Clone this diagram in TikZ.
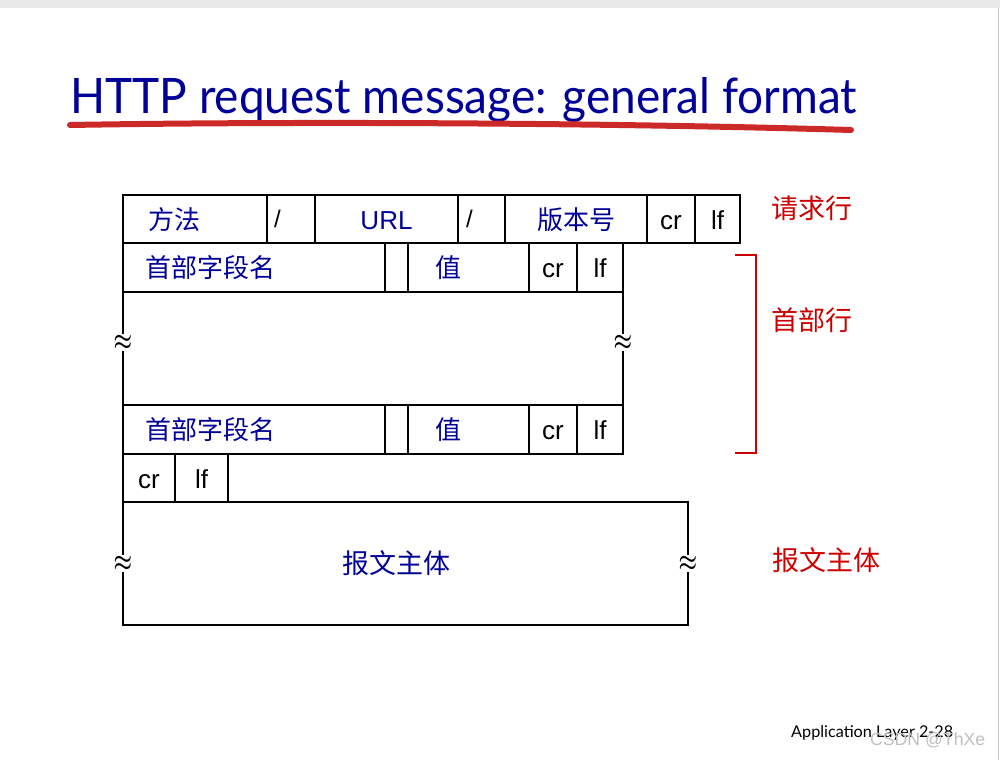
\documentclass[tikz,border=0pt]{standalone}
\usepackage{fontspec}
\setmainfont{Liberation Sans}
\newfontfamily\cjk{Noto Sans CJK SC}
\newfontfamily\gill{Lato}
\usetikzlibrary{positioning}
\definecolor{navy}{RGB}{0,0,153}
\definecolor{hdrred}{RGB}{204,0,0}
\definecolor{penred}{RGB}{204,41,41}

\begin{document}
\begin{tikzpicture}[
 x=1pt, y=-1pt,
 cell/.style={rectangle, draw=black, line width=2.3pt, inner sep=0pt, outer sep=0pt, minimum height=48pt, text height=20pt, text depth=0pt, font=\fontsize{26}{30}\selectfont},
 hrow/.style={cell, minimum height=49pt},
 zh/.style={text=navy, font=\cjk\fontsize{26}{30}\selectfont},
 slash/.style={font=\fontsize{24}{28}\selectfont, text height=16pt, align=left},
 cut/.style={fill=white, inner xsep=0pt, inner ysep=1.5pt, font=\fontsize{21}{21}\selectfont},
 tag/.style={text=hdrred, font=\cjk\fontsize{27}{32}\selectfont}
]

% Slide background
\fill[white] (0,0) rectangle (1000,760);
\fill[black!9] (0,0) rectangle (1000,8);
\draw[black!20, line width=1pt] (998,8) -- (998,760);

% Title with pen stroke
\node[anchor=base west, inner sep=0pt, text=navy] (title) at (70,113)
 {\resizebox{787pt}{36pt}{\gill\fontsize{48}{56}\selectfont HTTP request message: general format}};
\draw[penred, line width=6pt, line cap=round] (70,125) .. controls (300,121) and (620,123) .. (851,130);

% Request line
\node[cell, zh, anchor=north west, text width=94pt, inner xsep=25pt, align=left] (meth) at (123,195) {方法};
\node[cell, slash, right=0pt of meth, text width=34pt, inner xsep=7pt] (sl1) {/};
\node[cell, text=navy, right=0pt of sl1, minimum width=143pt] (url) {URL};
\node[cell, slash, right=0pt of url, text width=31pt, inner xsep=8pt] (sl2) {/};
\node[cell, zh, right=0pt of sl2, minimum width=142pt] (ver) {版本号};
\node[cell, right=0pt of ver, minimum width=48pt] (rcr) {cr};
\node[cell, right=0pt of rcr, minimum width=45pt] (rlf) {lf};

% First header line
\node[hrow, zh, anchor=north west, text width=218pt, inner xsep=22pt, align=left] (hname1) at (meth.south west) {首部字段名};
\node[hrow, right=0pt of hname1, minimum width=23pt] (hsp1) {};
\node[hrow, zh, right=0pt of hsp1, text width=67pt, inner xsep=27pt, align=left] (hval1) {值};
\node[hrow, right=0pt of hval1, minimum width=48pt] (hcr1) {cr};
\node[hrow, right=0pt of hcr1, minimum width=46pt] (hlf1) {lf};

% Omitted header lines
\node[cell, anchor=north west, minimum width=500pt, minimum height=113pt] (gap) at (hname1.south west) {};
\node[cut] (gapl) at ([yshift=6pt]gap.west) {\scalebox{1}[1.3]{\boldmath$\approx$}};
\node[cut] (gapr) at ([yshift=6pt]gap.east) {\scalebox{1}[1.3]{\boldmath$\approx$}};

% Last header line
\node[hrow, zh, anchor=north west, text width=218pt, inner xsep=22pt, align=left] (hname2) at (gap.south west) {首部字段名};
\node[hrow, right=0pt of hname2, minimum width=23pt] (hsp2) {};
\node[hrow, zh, right=0pt of hsp2, text width=67pt, inner xsep=27pt, align=left] (hval2) {值};
\node[hrow, right=0pt of hval2, minimum width=48pt] (hcr2) {cr};
\node[hrow, right=0pt of hcr2, minimum width=46pt] (hlf2) {lf};

% Blank line
\node[cell, anchor=north west, minimum width=52pt] (ecr) at (hname2.south west) {cr};
\node[cell, right=0pt of ecr, minimum width=53pt] (elf) {lf};

% Entity body
\node[cell, zh, font=\cjk\fontsize{27}{32}\selectfont, anchor=north west, text width=127pt, inner xsep=219pt, align=left, minimum height=123pt] (body) at (ecr.south west) {报文主体};
\node[cut] (bodyl) at (body.west) {\scalebox{1}[1.3]{\boldmath$\approx$}};
\node[cut] (bodyr) at (body.east) {\scalebox{1}[1.3]{\boldmath$\approx$}};

% Labels on the right
\node[tag] (reqtag) at (812,208) {请求行};
\node[tag] (hdrtag) at (812,320) {首部行};
\node[tag] (bodytag) at (826,560) {报文主体};
\coordinate (brt) at (756,255);
\coordinate (brb) at (756,453);
\draw[hdrred, line width=2pt] ([xshift=-21pt]brt) -- (brt) -- (brb) -- ([xshift=-21pt]brb);

% Footer
\node[anchor=base west, inner sep=0pt] (foot) at (791,737)
 {\resizebox{162pt}{!}{\gill\fontsize{14}{16}\selectfont Application Layer 2-28}};
\node[anchor=base west, inner sep=0pt, text=black!25] (mark) at (870,745)
 {\resizebox{115pt}{!}{\fontsize{14}{16}\selectfont CSDN @ThXe}};
\end{tikzpicture}
\end{document}
